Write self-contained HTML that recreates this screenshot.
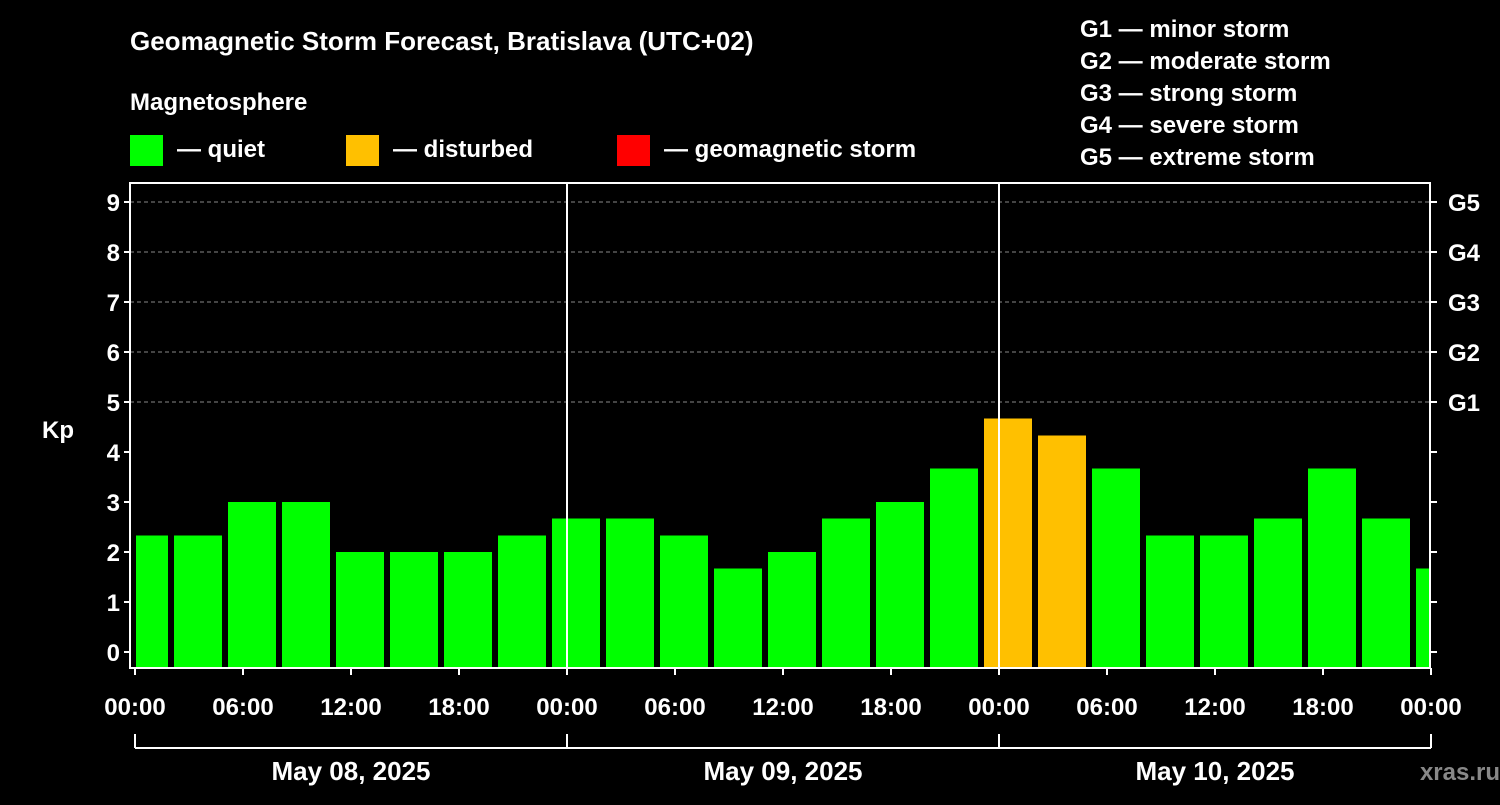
<!DOCTYPE html>
<html><head><meta charset="utf-8"><style>
body{margin:0;background:#000;width:1500px;height:800px;overflow:hidden;font-family:"Liberation Sans",sans-serif}
svg text{font-family:"Liberation Sans",sans-serif;font-weight:bold;fill:#fff}
</style></head><body>
<svg id="c" width="1500" height="800">
<text x="130" y="50" font-size="26">Geomagnetic Storm Forecast, Bratislava (UTC+02)</text>
<text x="130" y="110" font-size="24">Magnetosphere</text>
<g><rect x="130" y="135" width="33" height="31" fill="#00ff00"/><text x="177" y="157" font-size="24">— quiet</text></g>
<g><rect x="346" y="135" width="33" height="31" fill="#ffc000"/><text x="393" y="157" font-size="24">— disturbed</text></g>
<g><rect x="617" y="135" width="33" height="31" fill="#ff0000"/><text x="664" y="157" font-size="24">— geomagnetic storm</text></g>
<g font-size="24">
<text x="1080" y="37">G1 — minor storm</text><text x="1080" y="69">G2 — moderate storm</text><text x="1080" y="101">G3 — strong storm</text><text x="1080" y="133">G4 — severe storm</text><text x="1080" y="165">G5 — extreme storm</text></g>
<text x="42" y="438" font-size="24">Kp</text>
<text x="1500" y="780" font-size="24" text-anchor="end" style="fill:#888">xras.ru</text>
<g id="bars"></g><g id="axes"></g>
</svg>
<script>
const kpValues=[2.33,2.33,3,3,2,2,2,2.33,2.67,2.67,2.33,1.67,2,2.67,3,3.67,4.67,4.33,3.67,2.33,2.33,2.67,3.67,2.67,1.67];
const startHour=-1;
const yTicks=[0,1,2,3,4,5,6,7,8,9];
const gLabels=["G1","G2","G3","G4","G5"];
const xTickLabels=["00:00","06:00","12:00","18:00","00:00","06:00","12:00","18:00","00:00","06:00","12:00","18:00","00:00"];
const dates=["May 08, 2025","May 09, 2025","May 10, 2025"];
const L=130,R=1430,T=183,B=668,X0=135;
const x=h=>X0+h*18, y=v=>652-v*50;
const NS="http://www.w3.org/2000/svg";
function mk(p,t,a){const e=document.createElementNS(NS,t);for(const k in a)e.setAttribute(k,a[k]);p.appendChild(e);return e;}
const bars=document.getElementById('bars'),ax=document.getElementById('axes');
yTicks.forEach(v=>{if(v>=5){const g=mk(ax,'line',{x1:L,x2:R,y1:y(v),y2:y(v),stroke:'#888','stroke-dasharray':'4,3'});}});
kpValues.forEach((v,i)=>{let a=x(startHour+i*3)+3,b=x(startHour+i*3+3)-3;a=Math.max(a,L+6);b=Math.min(b,R);
const r=mk(bars,'rect',{x:a,y:y(v),width:b-a,height:B-y(v),fill:v>=5?'#ff0000':v>=4?'#ffc000':'#00ff00'});
});
const f=mk(ax,'rect',{x:L,y:T,width:R-L,height:B-T,fill:'none',stroke:'#fff','stroke-width':2});

[1,2].forEach(d=>{const l=mk(ax,'line',{x1:x(d*24),x2:x(d*24),y1:T,y2:B,stroke:'#fff','stroke-width':2});});
yTicks.forEach(v=>{mk(ax,'line',{x1:L-6,x2:L,y1:y(v),y2:y(v),stroke:'#fff','stroke-width':2});mk(ax,'line',{x1:R,x2:R+7,y1:y(v),y2:y(v),stroke:'#fff','stroke-width':2});
const t=mk(ax,'text',{x:L-10,y:y(v)+9,'font-size':24,'text-anchor':'end'});t.textContent=v;
if(v>=5){const g=mk(ax,'text',{x:R+18,y:y(v)+9,'font-size':24});g.textContent=gLabels[v-5];}});
xTickLabels.forEach((s,i)=>{const xx=x(i*6);mk(ax,'line',{x1:xx,x2:xx,y1:B,y2:B+7,stroke:'#fff','stroke-width':2});
const t=mk(ax,'text',{x:xx,y:715,'font-size':24,'text-anchor':'middle'});t.textContent=s;});
mk(ax,'line',{x1:x(0),x2:x(72),y1:748,y2:748,stroke:'#fff','stroke-width':2});
[0,1,2,3].forEach(d=>mk(ax,'line',{x1:x(d*24),x2:x(d*24),y1:734,y2:748,stroke:'#fff','stroke-width':2}));
dates.forEach((s,i)=>{const t=mk(ax,'text',{x:x(i*24+12),y:780,'font-size':26,'text-anchor':'middle'});t.textContent=s;});
</script>
</body></html>
